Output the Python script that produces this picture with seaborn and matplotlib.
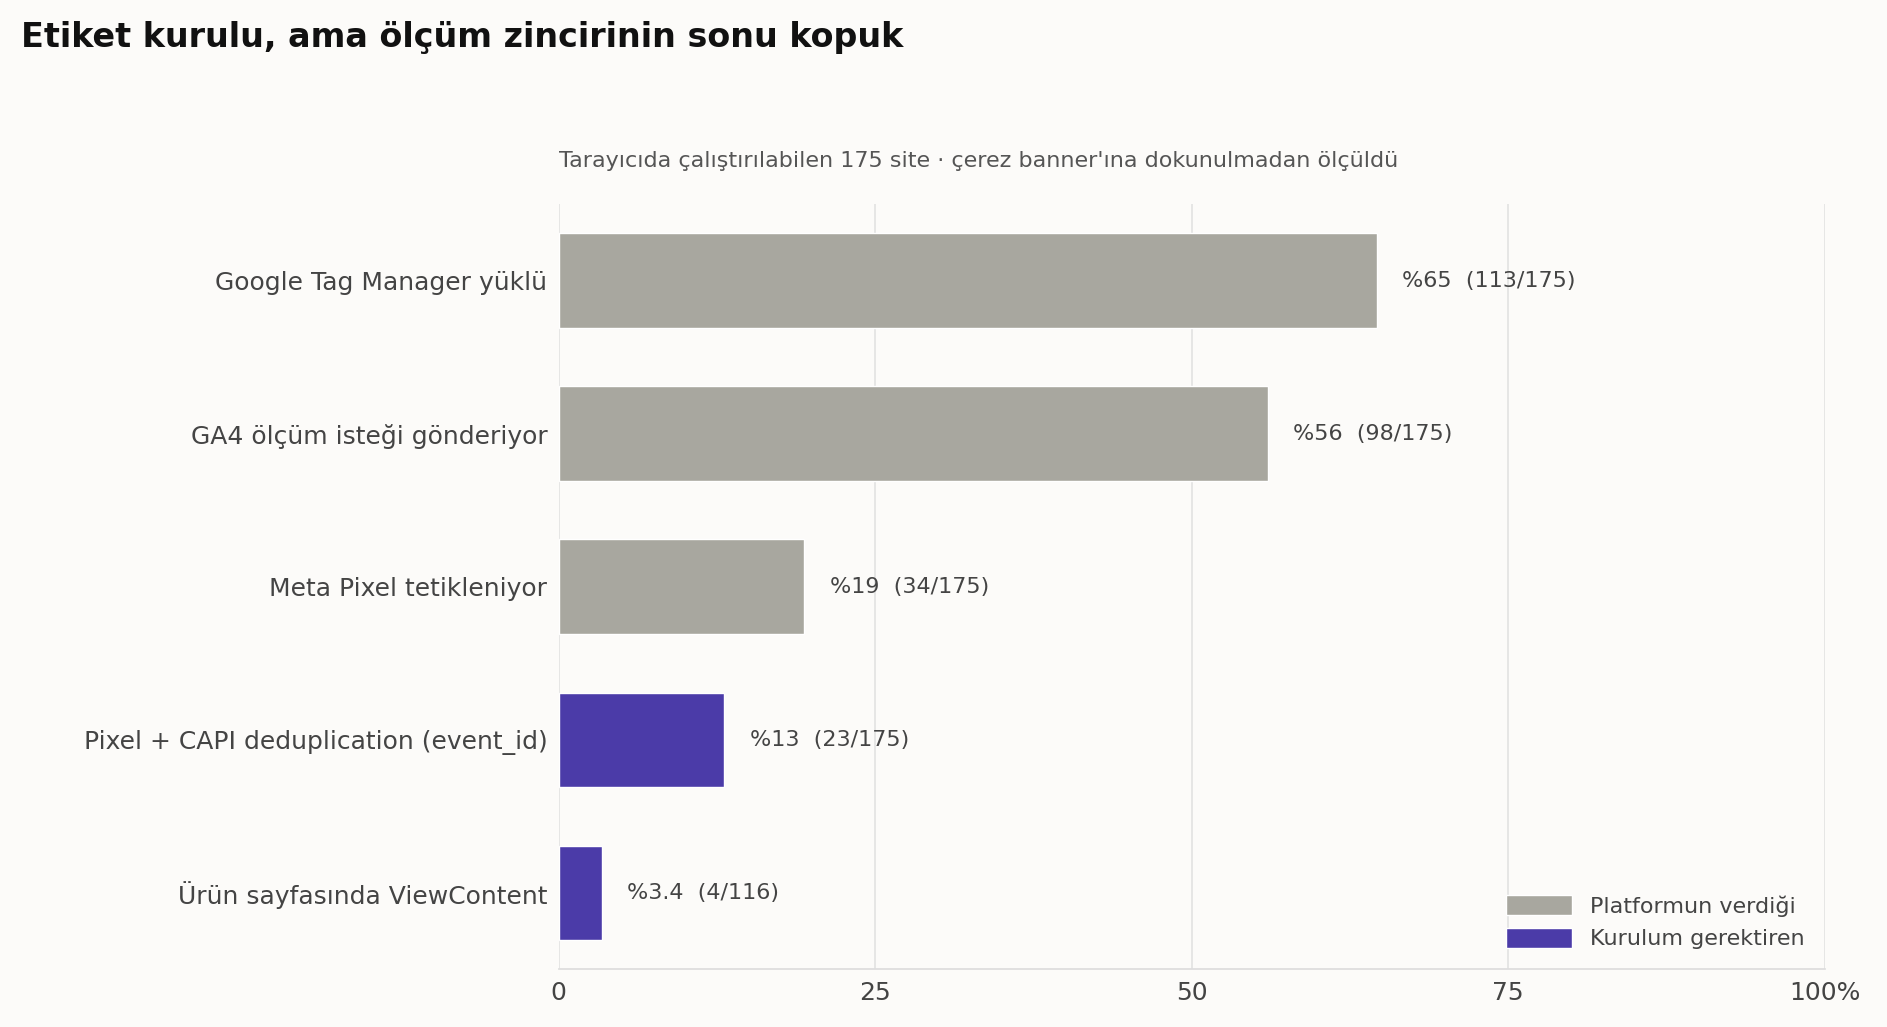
import matplotlib
matplotlib.use("Agg")
import matplotlib.pyplot as plt
import seaborn as sns
import pandas as pd

categories = ["Google Tag Manager yüklü", "GA4 ölçüm isteği gönderiyor", "Meta Pixel tetikleniyor",
              "Pixel + CAPI deduplication (event_id)", "Ürün sayfasında ViewContent"]
values = [64.6, 56.0, 19.4, 13.1, 3.4]
labels = ["%65  (113/175)", "%56  (98/175)", "%19  (34/175)", "%13  (23/175)", "%3.4  (4/116)"]
groups = ["Platformun verdiği"] * 3 + ["Kurulum gerektiren"] * 2
xticks = [0, 25, 50, 75, 100]
xticklabels = ["0", "25", "50", "75", "100%"]

bg = "#FCFBF9"
sns.set_theme(style="white")
plt.rcParams["font.family"] = ["DejaVu Sans"]
df = pd.DataFrame({"cat": categories, "val": values, "grp": groups})

fig = plt.figure(figsize=(18.87, 10.27), dpi=100, facecolor=bg)
ax = fig.add_axes([0.296, 0.056, 0.671, 0.745], facecolor=bg)
sns.barplot(data=df, y="cat", x="val", hue="grp", dodge=False, ax=ax, width=0.62,
            palette={"Platformun verdiği": "#A8A79F", "Kurulum gerektiren": "#4B3BA8"}, saturation=1)
for i, (v, t) in enumerate(zip(values, labels)):
    ax.text(v + 2, i, t, va="center", ha="left", fontsize=16, color="#444444")
ax.set_xlim(0, 100)
ax.set_xticks(xticks)
ax.set_xticklabels(xticklabels)
ax.tick_params(axis="x", labelsize=18, colors="#444444", length=0, pad=8)
ax.tick_params(axis="y", labelsize=18, colors="#444444", length=0, pad=8)
ax.set_xlabel("")
ax.set_ylabel("")
ax.grid(axis="x", color="#E2E2E2", linewidth=1.2)
ax.set_axisbelow(True)
for s in ["top", "right", "left"]:
    ax.spines[s].set_visible(False)
ax.spines["bottom"].set_color("#DDDDDD")
leg = ax.legend(loc="lower right", frameon=False, fontsize=16, handlelength=3, handleheight=1)
for t in leg.get_texts():
    t.set_color("#444444")
fig.text(0.011, 0.963, "Etiket kurulu, ama ölçüm zincirinin sonu kopuk", fontsize=24,
         fontweight="bold", ha="left", va="center", color="#111111")
fig.text(0.296, 0.843, "Tarayıcıda çalıştırılabilen 175 site · çerez banner'ına dokunulmadan ölçüldü",
         fontsize=16, ha="left", va="center", color="#555555")
fig.savefig("out.png", dpi=100, facecolor=bg)
